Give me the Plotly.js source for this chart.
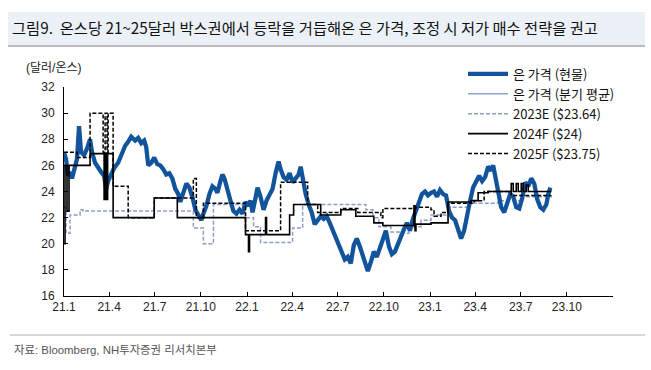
<!DOCTYPE html>
<html>
<head>
<meta charset="utf-8">
<script src="https://cdn.plot.ly/plotly-3.0.1.min.js"></script>
<style>html,body{margin:0;padding:0;background:#fff;}#chart{width:651px;height:370px;}</style>
</head>
<body>
<div id="chart"></div>
<script>
// ---- Data ----
const tickDates = ['2021-01-01','2021-04-01','2021-07-01','2021-10-01','2022-01-01','2022-04-01','2022-07-01','2022-10-01','2023-01-01','2023-04-01','2023-07-01','2023-10-01','2024-01-01'];
const tickLabels = ['21.1','21.4','21.7','21.10','22.1','22.4','22.7','22.10','23.1','23.4','23.7','23.10',''];

const spotDates = ['2021-01-01','2021-01-05','2021-01-09','2021-01-13','2021-01-17','2021-01-23','2021-01-27','2021-01-31','2021-02-04','2021-02-10','2021-02-16','2021-02-22','2021-02-26','2021-03-04','2021-03-10','2021-03-16','2021-03-22','2021-03-26','2021-03-30','2021-04-05','2021-04-11','2021-04-19','2021-04-25','2021-05-03','2021-05-09','2021-05-15','2021-05-23','2021-05-29','2021-06-04','2021-06-10','2021-06-14','2021-06-18','2021-06-24','2021-06-30','2021-07-06','2021-07-12','2021-07-18','2021-07-24','2021-07-30','2021-08-05','2021-08-11','2021-08-17','2021-08-21','2021-08-27','2021-09-02','2021-09-08','2021-09-14','2021-09-20','2021-09-26','2021-10-02','2021-10-06','2021-10-12','2021-10-18','2021-10-24','2021-10-30','2021-11-03','2021-11-09','2021-11-13','2021-11-17','2021-11-23','2021-11-29','2021-12-05','2021-12-11','2021-12-17','2021-12-23','2021-12-29','2022-01-04','2022-01-08','2022-01-12','2022-01-18','2022-01-22','2022-01-28','2022-02-03','2022-02-09','2022-02-15','2022-02-21','2022-02-27','2022-03-05','2022-03-09','2022-03-15','2022-03-21','2022-03-27','2022-04-02','2022-04-08','2022-04-14','2022-04-18','2022-04-22','2022-04-28','2022-05-04','2022-05-10','2022-05-16','2022-05-22','2022-05-28','2022-06-03','2022-06-09','2022-06-15','2022-06-21','2022-06-27','2022-07-03','2022-07-09','2022-07-15','2022-07-21','2022-07-27','2022-08-02','2022-08-08','2022-08-14','2022-08-20','2022-08-26','2022-08-30','2022-09-05','2022-09-11','2022-09-17','2022-09-23','2022-09-29','2022-10-05','2022-10-11','2022-10-17','2022-10-23','2022-10-29','2022-11-04','2022-11-10','2022-11-16','2022-11-22','2022-11-28','2022-12-04','2022-12-10','2022-12-16','2022-12-22','2022-12-28','2023-01-03','2023-01-09','2023-01-15','2023-01-21','2023-01-27','2023-02-02','2023-02-08','2023-02-14','2023-02-20','2023-02-26','2023-03-04','2023-03-10','2023-03-16','2023-03-22','2023-03-28','2023-04-03','2023-04-09','2023-04-15','2023-04-21','2023-04-27','2023-05-03','2023-05-07','2023-05-13','2023-05-19','2023-05-23','2023-05-29','2023-06-04','2023-06-10','2023-06-16','2023-06-22','2023-06-28','2023-07-04','2023-07-10','2023-07-16','2023-07-22','2023-07-28','2023-08-03','2023-08-09','2023-08-15','2023-08-21','2023-08-25','2023-08-29'];
const spotValues = [27.0,26.5,25.2,25.5,25.0,25.8,26.5,29.0,27.0,26.8,27.3,28.0,27.0,26.2,25.8,25.5,25.2,24.2,24.8,25.3,25.8,26.2,26.8,27.5,27.8,28.2,27.9,28.1,27.7,27.9,27.4,26.0,26.2,26.6,26.1,26.0,25.7,25.3,25.4,25.0,24.2,23.8,23.2,24.0,24.6,24.3,23.6,22.6,22.2,21.8,22.3,22.9,23.8,24.4,24.2,23.9,24.8,25.3,25.0,24.0,23.3,22.5,22.3,22.6,22.3,23.2,22.9,23.3,22.4,23.5,24.3,23.6,22.6,23.3,23.8,24.2,25.4,26.3,25.7,25.1,24.9,25.4,24.7,25.0,25.3,25.9,25.0,23.8,23.0,22.4,21.5,21.8,22.1,21.9,22.1,21.6,21.0,20.5,19.8,19.2,18.8,19.0,18.5,19.9,20.4,19.8,19.0,18.3,17.9,18.6,19.4,19.0,19.6,20.4,21.0,19.8,19.2,19.4,20.0,20.7,21.1,21.6,21.0,21.9,22.6,23.3,23.8,24.0,23.7,23.9,24.0,23.6,24.1,23.8,23.7,22.5,22.0,21.8,21.2,20.4,21.0,22.3,23.3,24.3,24.8,25.2,24.8,25.1,25.9,25.6,26.0,24.8,23.7,22.8,22.4,23.0,23.8,23.6,22.8,22.7,23.5,24.7,24.4,25.0,24.6,23.4,22.8,22.6,23.0,23.8,24.3];

// quarterly average series: not visible in the plot area of the reference (legend entry only)
const qAvgDates = ['2021-01-01'];
const qAvgValues = [null];

const f23Dates = ['2021-01-01','2021-01-05','2021-01-13','2021-02-02','2021-02-08','2021-09-16','2021-10-06','2021-10-26','2021-12-29','2022-01-14','2022-01-28','2022-04-02','2022-04-22','2022-08-26','2022-09-09','2022-09-21','2022-10-15','2022-11-04','2022-11-20','2022-12-14','2023-01-03','2023-02-06','2023-03-18','2023-05-17','2023-07-02','2023-08-31'];
const f23Values = [22.8,20.8,22.2,22.6,22.5,21.2,20.0,23.0,22.0,21.3,20.1,21.2,23.0,22.6,22.0,21.3,20.9,20.8,21.3,21.8,22.2,22.8,23.1,23.3,23.6,23.7];

const f24Dates = ['2021-01-01','2021-01-03','2021-01-07','2021-01-11','2021-02-22','2021-03-22','2021-03-24','2021-03-26','2021-03-29','2021-04-09','2021-06-30','2021-08-15','2021-12-29','2022-01-04','2022-01-06','2022-02-07','2022-02-09','2022-03-27','2022-04-04','2022-05-28','2022-07-07','2022-08-06','2022-09-11','2022-09-29','2022-11-30','2022-12-02','2022-12-04','2023-01-03','2023-02-06','2023-03-24','2023-04-07','2023-04-27','2023-06-12','2023-06-16','2023-06-22','2023-06-26','2023-07-02','2023-07-06','2023-07-12','2023-07-16','2023-08-31'];
const f24Values = [20.0,26.0,22.5,26.0,26.9,23.4,26.9,23.4,26.9,22.0,23.5,22.0,20.7,19.4,20.7,22.0,20.7,22.2,23.0,22.2,22.6,22.1,21.6,21.4,22.9,21.0,21.5,21.6,23.2,23.3,23.9,24.0,24.6,24.0,24.6,24.0,24.6,24.0,24.5,24.0,24.0];

const f25Dates = ['2021-01-01','2021-01-27','2021-02-22','2021-03-20','2021-03-24','2021-03-28','2021-03-30','2021-04-09','2021-05-09','2021-06-30','2021-09-16','2021-09-22','2021-10-06','2021-12-29','2022-03-09','2022-05-02','2022-05-22','2022-07-07','2022-08-10','2022-09-25','2022-09-29','2022-12-04','2023-01-03','2023-01-09','2023-01-23','2023-02-06','2023-03-30','2023-04-19','2023-06-12','2023-08-31'];
const f25Values = [27.0,26.6,30.0,27.0,30.0,27.0,30.0,24.4,22.0,23.5,25.0,22.0,23.1,21.0,24.7,23.0,22.4,22.7,22.4,22.0,22.7,22.8,22.6,22.1,22.4,23.1,23.3,24.0,23.7,23.7];

const names = ['은 가격 (현물)','은 가격 (분기 평균)','2023E ($23.64)','2024F ($24)','2025F ($23.75)'];

// ---- Traces ----
const traces = [
  {x:f23Dates, y:f23Values, name:names[2], mode:'lines', line:{color:'#8E9DC6', width:1.5, dash:'4px,2px', shape:'hv'}, legendrank:3},
  {x:qAvgDates, y:qAvgValues, name:names[1], mode:'lines', line:{color:'#8FA3CC', width:1.5}, legendrank:2, showlegend:true},
  {x:spotDates, y:spotValues, name:names[0], mode:'lines', line:{color:'#12549C', width:4.3}, legendrank:1},
  {x:f24Dates, y:f24Values, name:names[3], mode:'lines', line:{color:'#000000', width:1.6, shape:'hv'}, legendrank:4},
  {x:f25Dates, y:f25Values, name:names[4], mode:'lines', line:{color:'#000000', width:1.5, dash:'4px,2px', shape:'hv'}, legendrank:5}
];

function px2paperX(px){return (px-64)/549;}
function px2paperY(py){return (296-py)/209;}

const layout = {
  width:651, height:370,
  margin:{l:64, r:38, t:87, b:74},
  paper_bgcolor:'#ffffff', plot_bgcolor:'#ffffff',
  font:{family:'"Liberation Sans", Arial, "Noto Sans CJK KR", sans-serif', color:'#222', size:12},
  title:{text:'그림9.\u00a0\u00a0온스당 21~25달러 박스권에서 등락을 거듭해온 은 가격, 조정 시 저가 매수 전략을 권고',
         x:12/651, xref:'container', xanchor:'left', y:1-29/370, yref:'container', yanchor:'middle',
         font:{family:'"Noto Sans CJK KR", sans-serif', size:15.3, color:'#111'}},
  xaxis:{type:'date', range:['2021-01-01','2024-01-01'], tickmode:'array', tickvals:tickDates, ticktext:tickLabels,
         ticks:'inside', ticklen:4, tickcolor:'#000', showline:true, linecolor:'#000', linewidth:1,
         showgrid:false, zeroline:false, tickfont:{size:12, color:'#222'}},
  yaxis:{range:[16,32], tick0:16, dtick:2, ticks:'inside', ticklen:4, tickcolor:'#000', showline:true,
         linecolor:'#000', linewidth:1, showgrid:false, zeroline:false, tickfont:{size:12, color:'#222'}, ticklabelstandoff:6},
  showlegend:true,
  legend:{x:px2paperX(463), y:px2paperY(59), xanchor:'left', yanchor:'top', bgcolor:'rgba(0,0,0,0)',
          font:{family:'"Liberation Sans Narrow", "Noto Sans CJK KR", sans-serif', size:13, color:'#111'}, tracegroupgap:0, itemwidth:40},
  shapes:[
    {type:'rect', xref:'paper', yref:'paper', x0:px2paperX(8), x1:px2paperX(645), y0:px2paperY(46), y1:px2paperY(12), fillcolor:'#ECF1F8', line:{width:0}, layer:'below'},
    {type:'line', xref:'paper', yref:'paper', x0:px2paperX(8), x1:px2paperX(645), y0:px2paperY(46), y1:px2paperY(46), line:{color:'#A8A8A8', width:1.5}},
    {type:'line', xref:'paper', yref:'paper', x0:px2paperX(10), x1:px2paperX(645), y0:px2paperY(335), y1:px2paperY(335), line:{color:'#B0B0B0', width:1}}
  ],
  annotations:[
    {text:'(달러/온스)', xref:'paper', yref:'paper', x:px2paperX(24), y:px2paperY(68), xanchor:'left', yanchor:'middle', showarrow:false, font:{size:12, color:'#222'}},
    {text:'자료: Bloomberg, NH투자증권 리서치본부', xref:'paper', yref:'paper', x:px2paperX(12), y:px2paperY(350), xanchor:'left', yanchor:'middle', showarrow:false, font:{size:11.4, color:'#555'}}
  ]
};

Plotly.newPlot('chart', traces, layout, {displayModeBar:false, staticPlot:true});
</script>
</body>
</html>
